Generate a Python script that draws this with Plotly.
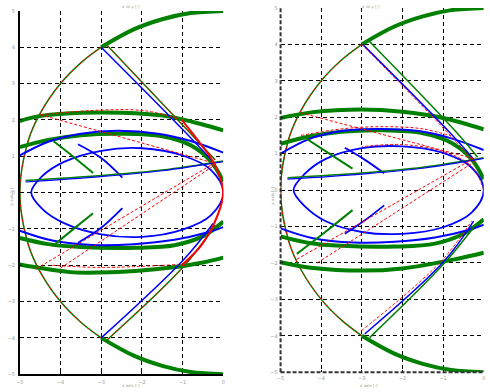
import plotly.graph_objects as go

# ---------------- data (x in [-5,0], y in [-5,5]) ----------------
x_ticks = [-5, -4, -3, -2, -1, 0]
y_ticks = [-5, -4, -3, -2, -1, 0, 1, 2, 3, 4, 5]

circle_top_thick = [(0, 5), (-0.8, 4.94), (-1.5, 4.77), (-2.2, 4.49), (-3, 4)]
circle_left_thin = [(-3, 4), (-3.5, 3.57), (-4, 3), (-4.5, 2.18), (-4.8, 1.4), (-5, 0),
                    (-4.8, -1.4), (-4.5, -2.18), (-4, -3), (-3.5, -3.57), (-3, -4)]
circle_bot_thick = [(-3, -4), (-2.2, -4.49), (-1.5, -4.77), (-0.8, -4.94), (0, -5)]

# left panel
L_A_top = [(-5, 1.97), (-4.59, 2.09), (-3.76, 2.18), (-3.01, 2.2), (-2.16, 2.18), (-1.33, 2.09), (-0.53, 1.88), (0, 1.71)]
L_A_bot = [(-5, -1.98), (-4.59, -2.06), (-3.76, -2.19), (-3.01, -2.2), (-2.16, -2.16), (-1.33, -2.07), (-0.53, -1.93), (0, -1.79)]
L_B_top = [(-5, 1.25), (-4.3, 1.45), (-3.5, 1.58), (-2.5, 1.62), (-1.5, 1.55), (-0.8, 1.3), (-0.3, 0.85), (0, 0.3)]
L_B_bot = [(-5, -1.25), (-4.3, -1.42), (-3.5, -1.5), (-2.16, -1.52), (-1.2, -1.45), (-0.5, -1.2), (0, -0.8)]
L_outer_blue_top = [(-5, 1.02), (-4.3, 1.4), (-3.5, 1.62), (-2.6, 1.7), (-1.6, 1.62), (-0.8, 1.42), (0, 1.1)]
L_outer_blue_bot = [(-5, -1.05), (-4.2, -1.32), (-3.2, -1.44), (-2.2, -1.42), (-1.2, -1.3), (-0.4, -1.1), (0, -0.95)]
L_inner_blue = [(0, 0), (-0.3, 0.62), (-1, 1.02), (-2, 1.22), (-3, 1.15), (-3.9, 0.85), (-4.45, 0.45), (-4.72, 0),
                (-4.45, -0.45), (-3.9, -0.85), (-3, -1.15), (-2, -1.22), (-1, -1.02), (-0.3, -0.62), (0, 0)]
L_green_small_top = [(-4.17, 1.41), (-3.7, 1.0), (-3.2, 0.54)]
L_green_small_bot = [(-3.2, -0.57), (-3.7, -1.02), (-4.17, -1.45)]
L_blue_small_top = [(-3.57, 1.33), (-3.0, 0.95), (-2.48, 0.41)]
L_blue_small_bot = [(-2.48, -0.43), (-3.0, -0.97), (-3.57, -1.38)]
L_flat_green = [(-4.86, 0.33), (-3, 0.47), (-1.5, 0.62), (0, 0.87)]
L_flat_blue = [(-4.86, 0.29), (-3, 0.44), (-1.5, 0.6), (0, 0.85)]
L_blue_diag_top = [(-3, 4), (-0.95, 1.68), (-0.25, 0.85)]
L_green_diag_top = [(-2.85, 4.05), (-0.85, 1.68), (-0.2, 0.9)]
L_blue_diag_bot = [(-3, -4), (-0.97, -1.84), (-0.25, -0.85)]
L_green_diag_bot = [(-2.85, -4.05), (-0.97, -2.03), (-0.2, -0.9)]
L_red_line1 = [(-4.49, 2.14), (-0.22, 0.81)]
L_red_line2 = [(-4.6, -2.1), (-0.22, 0.81)]
L_red_line3 = [(-4.0, -2.08), (-0.22, 0.75)]
L_red_A_top = [(-4.49, 2.14), (-3, 2.27), (-1.92, 2.25), (-1.1, 2.03)]
L_red_A_bot = [(-4.2, -2.0), (-3, -2.06), (-1.1, -1.98)]
L_red_solid = [(-1.02, 2.0), (-0.53, 1.3), (-0.22, 0.79), (0, 0), (-0.22, -0.84), (-0.53, -1.44), (-1.02, -2.0)]

# right panel
R_A_top = [(-5, 1.98), (-4.2, 2.14), (-3.01, 2.21), (-2, 2.15), (-1, 1.98), (0, 1.67)]
R_A_bot = [(-5, -1.98), (-4.2, -2.14), (-3.01, -2.21), (-2, -2.15), (-0.67, -1.89), (0, -1.72)]
R_B_top = [(-5, 1.27), (-4.3, 1.47), (-3.5, 1.6), (-2.5, 1.64), (-1.5, 1.56), (-0.8, 1.3), (-0.3, 0.85), (0, 0.3)]
R_B_bot = [(-5, -1.27), (-4.3, -1.45), (-3.5, -1.53), (-2.16, -1.55), (-1.2, -1.47), (-0.5, -1.2), (0, -0.8)]
R_outer_blue_top = [(-5, 1.0), (-4.3, 1.4), (-3.5, 1.62), (-2.6, 1.68), (-1.6, 1.62), (-0.8, 1.42), (0, 1.1)]
R_outer_blue_bot = [(-5, -1.05), (-4.2, -1.32), (-3.2, -1.44), (-2.2, -1.42), (-1.2, -1.3), (-0.4, -1.1), (0, -0.95)]
R_inner_blue = [(0, 0), (-0.3, 0.62), (-1, 1.02), (-2, 1.2), (-3, 1.15), (-3.9, 0.85), (-4.4, 0.45), (-4.68, 0),
                (-4.4, -0.45), (-3.9, -0.85), (-3, -1.15), (-2, -1.2), (-1, -1.02), (-0.3, -0.62), (0, 0)]
R_green_small_top = [(-4.39, 1.43), (-3.8, 1.0), (-3.23, 0.59)]
R_green_small_bot = [(-3.23, -0.55), (-3.9, -1.15), (-4.6, -1.75)]
R_blue_small_top = [(-3.42, 1.16), (-2.95, 0.85), (-2.45, 0.46)]
R_blue_small_bot = [(-2.45, -0.42), (-2.95, -0.85), (-3.42, -1.2)]
R_flat_green = [(-4.83, 0.34), (-3, 0.47), (-1.5, 0.63), (0, 0.89)]
R_flat_blue = [(-4.83, 0.3), (-3, 0.44), (-1.5, 0.6), (0, 0.87)]
R_blue_diag_top = [(-2.98, 4.0), (-0.87, 1.62), (-0.25, 0.85)]
R_green_diag_top = [(-2.81, 4.08), (-0.7, 1.62), (-0.15, 0.9)]
R_red_diag_top = [(-3.0, 4.0), (-0.95, 1.65), (-0.3, 0.85)]
R_blue_diag_bot = [(-2.93, -3.95), (-0.99, -1.97), (-0.25, -0.85)]
R_green_diag_bot = [(-2.81, -4.05), (-0.99, -2.03), (-0.2, -0.95)]
R_red_diag_bot = [(-3.01, -3.86), (-1.06, -1.97), (-0.3, -0.85)]
R_red_line1 = [(-4.5, 2.12), (-0.2, 0.85)]
R_red_line2 = [(-4.6, -1.9), (-0.2, 0.9)]
R_red_line3 = [(-4.1, -2.0), (-0.2, 0.8)]
R_red_B_top = [(-4.5, 1.5), (-3.5, 1.68), (-2.5, 1.74), (-1.5, 1.68), (-0.8, 1.48)]
R_red_inner = [(0, 0), (-0.3, 0.65), (-1, 1.06), (-2, 1.25), (-3, 1.19)]

GREEN = "#008000"
BLUE = "#0000FF"
RED = "#FF0000"
RDASH = "3px,2px"

fig = go.Figure()


def add(pts, color, width, dash="solid", ax=1, spline=True):
    xs = [p[0] for p in pts]
    ys = [p[1] for p in pts]
    fig.add_trace(go.Scatter(
        x=xs, y=ys, mode="lines",
        line=dict(color=color, width=width, dash=dash, shape="spline" if spline else "linear"),
        xaxis="x" if ax == 1 else "x2", yaxis="y" if ax == 1 else "y2",
        showlegend=False, hoverinfo="skip"))


for ax in (1, 2):
    add(circle_top_thick, GREEN, 4, ax=ax)
    add(circle_bot_thick, GREEN, 4, ax=ax)
    add(circle_left_thin, GREEN, 1.5, ax=ax)
    add(circle_left_thin, RED, 1, RDASH, ax=ax)

# left panel
add(L_A_top, GREEN, 4)
add(L_A_bot, GREEN, 4)
add(L_B_top, GREEN, 4)
add(L_B_bot, GREEN, 4)
add(L_outer_blue_top, BLUE, 2)
add(L_outer_blue_bot, BLUE, 2)
add(L_inner_blue, BLUE, 1.8)
add(L_green_small_top, GREEN, 2)
add(L_green_small_bot, GREEN, 2)
add(L_blue_small_top, BLUE, 1.8)
add(L_blue_small_bot, BLUE, 1.8)
add(L_flat_green, GREEN, 1.5)
add(L_flat_blue, BLUE, 1.2)
add(L_blue_diag_top, BLUE, 1.5)
add(L_green_diag_top, GREEN, 1.5)
add(L_green_diag_top, RED, 1, RDASH)
add(L_blue_diag_bot, BLUE, 1.5)
add(L_green_diag_bot, GREEN, 1.5)
add(L_green_diag_bot, RED, 1, RDASH)
add(L_red_line1, RED, 1, RDASH, spline=False)
add(L_red_line2, RED, 1, RDASH, spline=False)
add(L_red_line3, RED, 1, RDASH, spline=False)
add(L_red_A_top, RED, 1, RDASH)
add(L_red_A_bot, RED, 1, RDASH)
add(L_red_solid, RED, 2)

# right panel
add(R_A_top, GREEN, 4, ax=2)
add(R_A_bot, GREEN, 4, ax=2)
add(R_B_top, GREEN, 4, ax=2)
add(R_B_bot, GREEN, 4, ax=2)
add(R_red_B_top, RED, 1, RDASH, ax=2)
add(R_outer_blue_top, BLUE, 2, ax=2)
add(R_outer_blue_bot, BLUE, 2, ax=2)
add(R_inner_blue, BLUE, 1.8, ax=2)
add(R_red_inner, RED, 1, RDASH, ax=2)
add(R_green_small_top, GREEN, 2, ax=2)
add(R_green_small_bot, GREEN, 2, ax=2)
add(R_blue_small_top, BLUE, 1.8, ax=2)
add(R_blue_small_bot, BLUE, 1.8, ax=2)
add(R_flat_green, GREEN, 1.5, ax=2)
add(R_flat_blue, BLUE, 1.2, ax=2)
add(R_blue_diag_top, BLUE, 1.5, ax=2)
add(R_green_diag_top, GREEN, 1.5, ax=2)
add(R_red_diag_top, RED, 1, RDASH, ax=2)
add(R_blue_diag_bot, BLUE, 1.5, ax=2)
add(R_green_diag_bot, GREEN, 1.5, ax=2)
add(R_red_diag_bot, RED, 1, RDASH, ax=2)
add(R_red_line1, RED, 1, RDASH, ax=2, spline=False)
add(R_red_line2, RED, 1, RDASH, ax=2, spline=False)
add(R_red_line3, RED, 1, RDASH, ax=2, spline=False)

tickfont = dict(size=5, color="#999999", family="DejaVu Sans")
axcommon = dict(showgrid=True, gridcolor="black", griddash="4px,3px", gridwidth=1,
                zeroline=False, ticks="inside", ticklen=2, tickcolor="black",
                tickfont=tickfont, linecolor="black", linewidth=1.5)

fig.update_layout(
    width=490, height=392,
    margin=dict(l=0, r=0, t=0, b=0),
    paper_bgcolor="white", plot_bgcolor="white",
    xaxis=dict(domain=[16 / 490, 222 / 490], range=[-5, 0], tickvals=x_ticks, anchor="y", showline=True,
               ticklabelstandoff=2, **axcommon),
    yaxis=dict(domain=[(392 - 377) / 392, (392 - 8) / 392], range=[-5, 5], tickvals=y_ticks, anchor="x", showline=True,
               ticklabelstandoff=2, **axcommon),
    xaxis2=dict(domain=[280 / 490, 485.7 / 490], range=[-5, 0], tickvals=x_ticks, anchor="y2", showline=False,
                ticklabelstandoff=2, **axcommon),
    yaxis2=dict(domain=[(392 - 375) / 392, (392 - 5) / 392], range=[-5, 5], tickvals=y_ticks, anchor="x2", showline=False,
                ticklabelstandoff=2, **axcommon),
)

# dashed axis frame lines of the right panel
fig.add_shape(type="line", xref="x2 domain", yref="y2 domain", x0=0, x1=0, y0=0, y1=1,
              line=dict(color="#333333", width=2, dash="4px,2px"))
fig.add_shape(type="line", xref="x2 domain", yref="y2 domain", x0=0, x1=1, y0=0, y1=0,
              line=dict(color="#333333", width=2, dash="4px,2px"))

small = dict(size=4, color="#999999", family="DejaVu Sans")
fig.add_annotation(text="x axis [-]", xref="paper", yref="paper", x=118 / 490, y=0,
                   yanchor="bottom", showarrow=False, font=small, borderpad=0)
fig.add_annotation(text="x axis [-]", xref="paper", yref="paper", x=380 / 490, y=0,
                   yanchor="bottom", showarrow=False, font=small, borderpad=0)
fig.add_annotation(text="x vs y [-]", xref="paper", yref="paper", x=118 / 490, y=1,
                   yanchor="top", showarrow=False, font=small, borderpad=0)
fig.add_annotation(text="x vs y [-]", xref="paper", yref="paper", x=382 / 490, y=1,
                   yanchor="top", showarrow=False, font=small, borderpad=0)
fig.add_annotation(text="y axis [-]", xref="paper", yref="paper", x=4 / 490, y=0.5, textangle=-90,
                   showarrow=False, font=small, borderpad=0)
fig.add_annotation(text="y axis [-]", xref="paper", yref="paper", x=271 / 490, y=0.5, textangle=-90,
                   showarrow=False, font=small, borderpad=0)

fig.write_html("out.html")
